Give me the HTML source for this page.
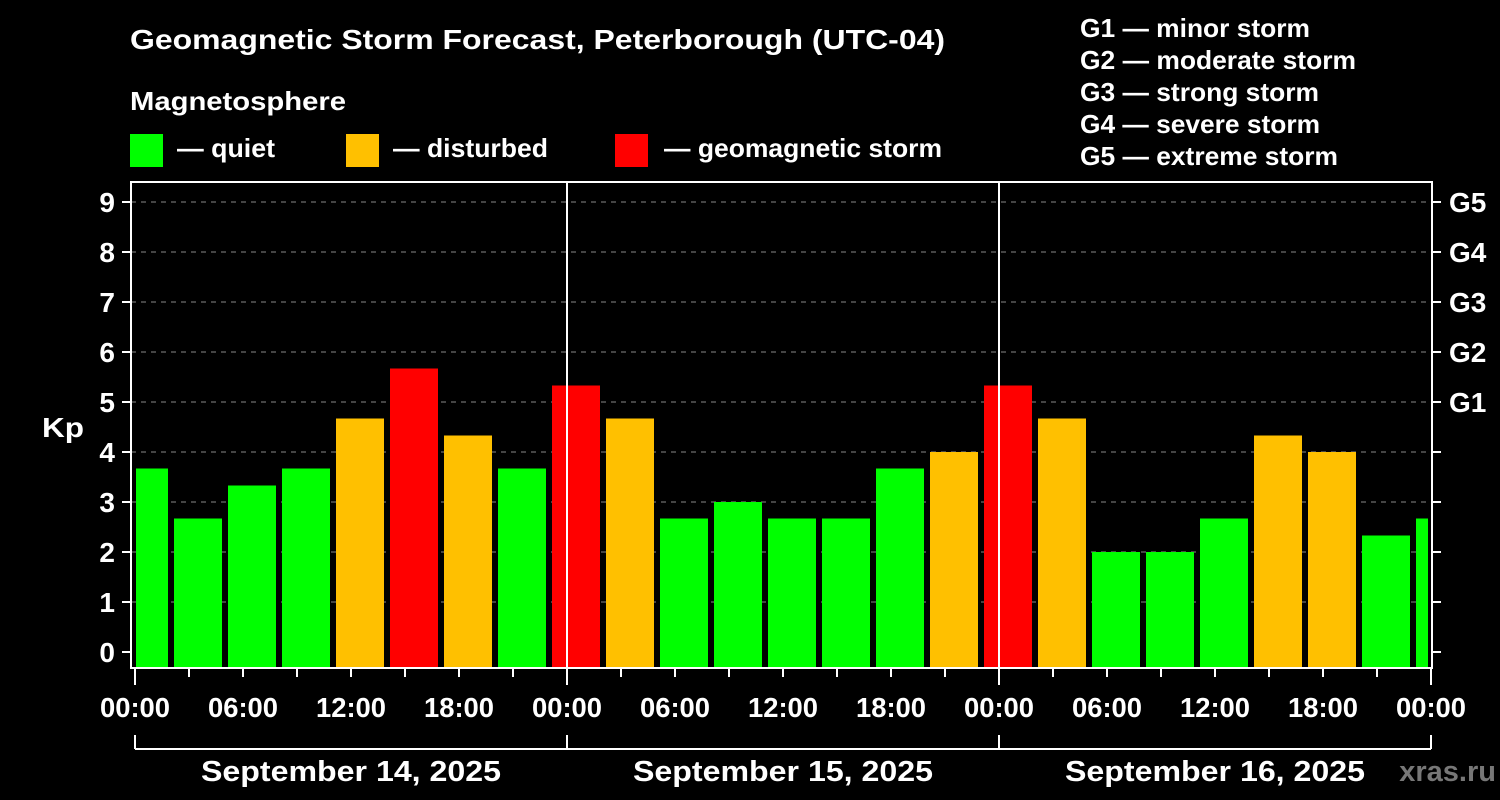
<!DOCTYPE html>
<html><head><meta charset="utf-8"><style>
html,body{margin:0;padding:0;background:#000;}
svg{display:block;font-family:"Liberation Sans",Arial,sans-serif;font-weight:bold;}
</style></head><body>
<svg id="chart" width="1500" height="800" viewBox="0 0 1500 800">
<rect x="0" y="0" width="1500" height="800" fill="#000"/>
<text x="130" y="49" fill="#fff" font-size="28" textLength="815" lengthAdjust="spacingAndGlyphs">Geomagnetic Storm Forecast, Peterborough (UTC-04)</text>
<text x="130" y="110" fill="#fff" font-size="26" textLength="216" lengthAdjust="spacingAndGlyphs">Magnetosphere</text>
<g><rect x="130" y="134" width="33" height="33" fill="#00ff00"/><text x="177" y="157" fill="#fff" font-size="26" textLength="98" lengthAdjust="spacingAndGlyphs">— quiet</text></g>
<g><rect x="346" y="134" width="33" height="33" fill="#ffc000"/><text x="393" y="157" fill="#fff" font-size="26" textLength="155" lengthAdjust="spacingAndGlyphs">— disturbed</text></g>
<g><rect x="615" y="134" width="33" height="33" fill="#ff0000"/><text x="664" y="157" fill="#fff" font-size="26" textLength="278" lengthAdjust="spacingAndGlyphs">— geomagnetic storm</text></g>
<g fill="#fff" font-size="26">
<text x="1080" y="37" textLength="230" lengthAdjust="spacingAndGlyphs">G1 — minor storm</text>
<text x="1080" y="69" textLength="276" lengthAdjust="spacingAndGlyphs">G2 — moderate storm</text>
<text x="1080" y="101" textLength="239" lengthAdjust="spacingAndGlyphs">G3 — strong storm</text>
<text x="1080" y="133" textLength="240" lengthAdjust="spacingAndGlyphs">G4 — severe storm</text>
<text x="1080" y="165" textLength="258" lengthAdjust="spacingAndGlyphs">G5 — extreme storm</text>
</g>
<text x="42" y="437" fill="#fff" font-size="28" textLength="42" lengthAdjust="spacingAndGlyphs">Kp</text>
<text x="1496" y="781" fill="#777" font-size="29" text-anchor="end">xras.ru</text>
<g id="grid"></g>
<g id="bars"></g>
<g id="axes"></g>
</svg>
<script>
const kpValues=[3.67,2.67,3.33,3.67,4.67,5.67,4.33,3.67,5.33,4.67,2.67,3.0,2.67,2.67,3.67,4.0,5.33,4.67,2.0,2.0,2.67,4.33,4.0,2.33,2.67];
const yTicks=[0,1,2,3,4,5,6,7,8,9];
const gLabels=["G1","G2","G3","G4","G5"];
const gLevels=[5,6,7,8,9];
const timeLabels=["00:00","06:00","12:00","18:00","00:00","06:00","12:00","18:00","00:00","06:00","12:00","18:00","00:00"];
const dayLabels=["September 14, 2025","September 15, 2025","September 16, 2025"];

const NS="http://www.w3.org/2000/svg";
const X0=135,X1=1431,TOP=182,BOT=668;
const hoursTotal=72;
const xHour=h=>X0+(X1-X0)*h/hoursTotal;
const yVal=v=>652-50*v;
function mk(tag,attrs,parent,text){const e=document.createElementNS(NS,tag);for(const k in attrs)e.setAttribute(k,attrs[k]);if(text!==undefined)e.textContent=text;parent.appendChild(e);return e;}
const grid=document.getElementById('grid'),bars=document.getElementById('bars'),axes=document.getElementById('axes');

yTicks.forEach(t=>{
  if(t>0){const l=mk('line',{x1:131,x2:1432,y1:yVal(t),y2:yVal(t),stroke:'#888','stroke-width':1,'stroke-dasharray':'5,5'},grid);
  
  }
  const tl=mk('text',{x:115,y:yVal(t)+10,fill:'#fff','font-size':28,'text-anchor':'end'},axes,String(t));
  
  
  mk('line',{x1:122,x2:131,y1:yVal(t),y2:yVal(t),stroke:'#fff','stroke-width':2},axes);
  mk('line',{x1:1432,x2:1441,y1:yVal(t),y2:yVal(t),stroke:'#fff','stroke-width':2},axes);
});
gLabels.forEach((g,i)=>{
  const t=mk('text',{x:1449,y:yVal(gLevels[i])+10,fill:'#fff','font-size':28},axes,g);
  
  
});

kpValues.forEach((v,i)=>{
  let c=xHour(3*i)+9;
  let x0=c-24,x1=c+24;
  x0=Math.max(x0,X0+1);x1=Math.min(x1,X1-3);
  const col=v>=5?'#ff0000':(v>=4?'#ffc000':'#00ff00');
  const r=mk('rect',{x:x0,y:yVal(v),width:x1-x0,height:BOT-yVal(v),fill:col},bars);
  
  
});

const fr=mk('rect',{x:131,y:TOP,width:1301,height:BOT-TOP,fill:'none',stroke:'#fff','stroke-width':2},axes);


[24,48].forEach(h=>{mk('line',{x1:xHour(h),x2:xHour(h),y1:TOP,y2:BOT,stroke:'#fff','stroke-width':2},axes);});

for(let h=0;h<=72;h+=3){
  const long=(h%24===0);
  mk('line',{x1:xHour(h),x2:xHour(h),y1:BOT,y2:BOT+(long?17:9),stroke:'#fff','stroke-width':2},axes);
}
timeLabels.forEach((lab,i)=>{
  const t=mk('text',{x:xHour(6*i),y:717,fill:'#fff','font-size':28,'text-anchor':'middle',textLength:70,lengthAdjust:'spacingAndGlyphs'},axes,lab);
  
  
});
mk('line',{x1:X0,x2:X1,y1:749,y2:749,stroke:'#fff','stroke-width':2},axes);
[0,24,48,72].forEach(h=>mk('line',{x1:xHour(h),x2:xHour(h),y1:735,y2:749,stroke:'#fff','stroke-width':2},axes));
dayLabels.forEach((d,i)=>{
  const t=mk('text',{x:xHour(24*i+12),y:781,fill:'#fff','font-size':29,'text-anchor':'middle',textLength:300,lengthAdjust:'spacingAndGlyphs'},axes,d);
  
  
});
</script>
</body></html>
